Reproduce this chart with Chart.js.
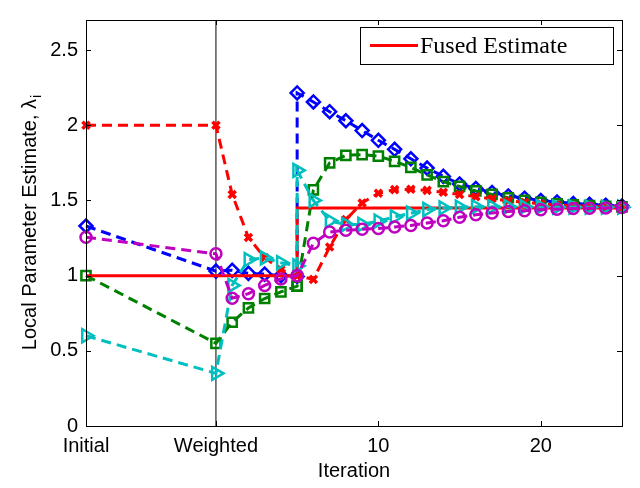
<!DOCTYPE html>
<html>
<head>
<meta charset="utf-8">
<script src="https://cdn.jsdelivr.net/npm/chart.js@4/dist/chart.umd.min.js"></script>
<style>
html,body{margin:0;padding:0;background:#fff;}
canvas{display:block;}
</style>
</head>
<body>
<canvas id="c" width="640" height="488"></canvas>
<script>
// x positions: Initial (-8), Weighted (0), iterations 1..25 (iteration 5 appears twice: before / after the reset)
const iterations = [-8, 0, 1, 2, 3, 4, 5, 5, 6, 7, 8, 9, 10, 11, 12, 13, 14, 15, 16, 17, 18, 19, 20, 21, 22, 23, 24, 25];

const blueValues    = [1.33, 1.03, 1.035, 1.015, 1.01, 1.0, 0.995, 2.215, 2.155, 2.09, 2.03, 1.965, 1.90, 1.84, 1.777, 1.715, 1.66, 1.61, 1.58, 1.553, 1.53, 1.515, 1.50, 1.49, 1.48, 1.474, 1.468, 1.463];
const greenValues   = [1.0, 0.55, 0.69, 0.785, 0.848, 0.892, 0.93, 0.93, 1.57, 1.75, 1.80, 1.805, 1.795, 1.76, 1.72, 1.67, 1.625, 1.593, 1.563, 1.54, 1.518, 1.50, 1.487, 1.478, 1.47, 1.465, 1.46, 1.457];
const redValues     = [2.0, 2.0, 1.54, 1.254, 1.12, 1.04, 1.0, 1.0, 0.975, 1.19, 1.373, 1.483, 1.548, 1.572, 1.574, 1.567, 1.555, 1.54, 1.525, 1.511, 1.497, 1.487, 1.478, 1.47, 1.465, 1.461, 1.458, 1.456];
const cyanValues    = [0.6, 0.35, 0.935, 1.107, 1.118, 1.086, 1.064, 1.70, 1.50, 1.365, 1.34, 1.34, 1.362, 1.39, 1.415, 1.44, 1.45, 1.455, 1.458, 1.458, 1.458, 1.457, 1.457, 1.456, 1.456, 1.455, 1.455, 1.455];
const magentaValues = [1.255, 1.145, 0.85, 0.88, 0.935, 0.978, 1.0, 1.0, 1.215, 1.29, 1.302, 1.308, 1.313, 1.323, 1.334, 1.35, 1.365, 1.388, 1.405, 1.416, 1.427, 1.431, 1.438, 1.442, 1.446, 1.448, 1.45, 1.453];

const fusedX = [-8, 5, 5, 25];
const fusedY = [1.0, 1.0, 1.45, 1.45];

const weightedLineX = [0, 0];
const weightedLineY = [0, 2.7];

const xTickValues = [-8, 0, 10, 20];
const xTickLabels = ['Initial', 'Weighted', '10', '20'];
const yTickValues = [0, 0.5, 1, 1.5, 2, 2.5];
const yTickLabels = ['0', '0.5', '1', '1.5', '2', '2.5'];

const legendLabel = 'Fused Estimate';
const xTitle = 'Iteration';
const yTitleMain = 'Local Parameter Estimate, \u03bb';
const yTitleSub = 'i';

function pts(xs, ys) { return xs.map((x, i) => ({x: x, y: ys[i]})); }

const SANS = '"Liberation Sans", Arial, Helvetica, sans-serif';
const DASH = [10, 6];

function series(label, ys, color, style, radius, order, extra) {
  return Object.assign({
    label: label,
    data: pts(iterations, ys),
    borderColor: color,
    borderWidth: 3,
    borderDash: DASH,
    pointStyle: style,
    pointRadius: radius,
    pointHoverRadius: radius,
    pointBorderColor: color,
    pointBackgroundColor: 'rgba(0,0,0,0)',
    pointBorderWidth: 2.5,
    tension: 0,
    fill: false,
    clip: false,
    order: order
  }, extra || {});
}

const frame = {
  id: 'frame',
  afterDraw(chart) {
    const ctx = chart.ctx;
    const a = chart.chartArea;
    const xs = chart.scales.x, ys = chart.scales.y;
    ctx.save();
    ctx.strokeStyle = '#000';
    ctx.lineWidth = 1;
    ctx.strokeRect(Math.round(a.left) + 0.5, Math.round(a.top) + 0.5, Math.round(a.right - a.left), Math.round(a.bottom - a.top));
    const tl = 5;
    ctx.beginPath();
    xTickValues.forEach(v => {
      const px = Math.round(xs.getPixelForValue(v)) + 0.5;
      ctx.moveTo(px, a.bottom); ctx.lineTo(px, a.bottom - tl);
      ctx.moveTo(px, a.top); ctx.lineTo(px, a.top + tl);
    });
    yTickValues.forEach(v => {
      const py = Math.round(ys.getPixelForValue(v)) + 0.5;
      ctx.moveTo(a.left, py); ctx.lineTo(a.left + tl, py);
      ctx.moveTo(a.right, py); ctx.lineTo(a.right - tl, py);
    });
    ctx.stroke();

    // y-axis title with subscript
    ctx.fillStyle = '#000';
    ctx.translate(30, (a.top + a.bottom) / 2);
    ctx.rotate(-Math.PI / 2);
    ctx.font = '20px ' + SANS;
    const mainW = ctx.measureText(yTitleMain).width;
    ctx.font = '14px ' + SANS;
    const subW = ctx.measureText(yTitleSub).width;
    const total = mainW + subW;
    ctx.textBaseline = 'middle';
    ctx.textAlign = 'left';
    ctx.font = '20px ' + SANS;
    ctx.fillText(yTitleMain, -total / 2, 0);
    ctx.font = '14px ' + SANS;
    ctx.fillText(yTitleSub, -total / 2 + mainW + 1, 7);
    ctx.restore();

    // legend box
    ctx.save();
    const bx = a.right - 262, by = a.top + 7, bw = 253, bh = 37;
    ctx.fillStyle = '#fff';
    ctx.fillRect(bx, by, bw, bh);
    ctx.strokeStyle = '#000';
    ctx.lineWidth = 1;
    ctx.strokeRect(bx + 0.5, by + 0.5, bw, bh);
    ctx.strokeStyle = '#ff0000';
    ctx.lineWidth = 3;
    ctx.beginPath();
    ctx.moveTo(bx + 10, by + 18.5);
    ctx.lineTo(bx + 58, by + 18.5);
    ctx.stroke();
    ctx.fillStyle = '#000';
    ctx.font = '24px "Liberation Serif", "Times New Roman", serif';
    ctx.textBaseline = 'alphabetic';
    ctx.textAlign = 'left';
    ctx.fillText(legendLabel, bx + 60, by + 26);
    ctx.restore();
  }
};

new Chart(document.getElementById('c'), {
  type: 'line',
  data: {
    datasets: [
      series('Agent 5', magentaValues, '#bf00bf', 'circle', 5.5, 1),
      series('Agent 4', cyanValues, '#00bfbf', 'triangle', 7.5, 2, {pointRotation: 90}),
      {
        label: legendLabel,
        data: pts(fusedX, fusedY),
        borderColor: '#ff0000',
        borderWidth: 3,
        pointRadius: 0,
        tension: 0,
        fill: false,
        clip: false,
        order: 3
      },
      series('Agent 3', redValues, '#ff0000', 'crossRot', 5, 4, {pointBorderWidth: 3.5}),
      series('Agent 2', greenValues, '#008000', 'rect', 6.5, 5),
      series('Agent 1', blueValues, '#0000ff', 'rectRot', 6.5, 6),
      {
        label: 'Weighted',
        data: pts(weightedLineX, weightedLineY),
        borderColor: '#000',
        borderWidth: 1,
        pointRadius: 0,
        tension: 0,
        fill: false,
        order: 7
      }
    ]
  },
  options: {
    responsive: false,
    animation: false,
    devicePixelRatio: 1,
    layout: {padding: {top: 8, right: 18, left: 0, bottom: 0}},
    plugins: {
      legend: {display: false},
      tooltip: {enabled: false}
    },
    scales: {
      x: {
        type: 'linear',
        min: -8,
        max: 25,
        afterBuildTicks: s => { s.ticks = xTickValues.map(v => ({value: v})); },
        afterFit: s => { s.height = 62; },
        ticks: {
          autoSkip: false,
          maxRotation: 0,
          padding: 8,
          color: '#000',
          font: {family: SANS, size: 20},
          callback: (v) => { const i = xTickValues.indexOf(v); return i >= 0 ? xTickLabels[i] : ''; }
        },
        grid: {display: false, drawTicks: false},
        border: {display: false},
        title: {display: true, text: xTitle, color: '#000', font: {family: SANS, size: 20}, padding: {top: 0, bottom: 5}}
      },
      y: {
        type: 'linear',
        min: 0,
        max: 2.7,
        afterBuildTicks: s => { s.ticks = yTickValues.map(v => ({value: v})); },
        afterFit: s => { s.width = 86; },
        ticks: {
          padding: 8,
          color: '#000',
          font: {family: SANS, size: 20},
          callback: (v) => { const i = yTickValues.indexOf(v); return i >= 0 ? yTickLabels[i] : ''; }
        },
        grid: {display: false, drawTicks: false},
        border: {display: false}
      }
    }
  },
  plugins: [frame]
});
</script>
</body>
</html>
